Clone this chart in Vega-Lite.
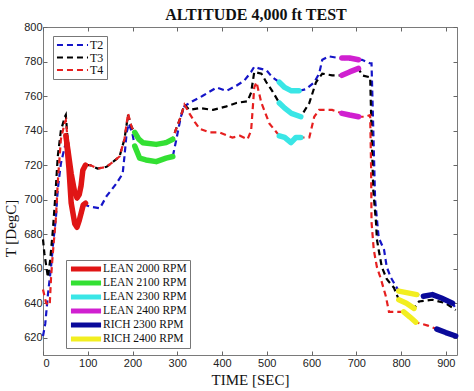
{
  "$schema": "https://vega.github.io/schema/vega-lite/v6.json",
  "width": 414,
  "height": 328,
  "autosize": {"type": "none"},
  "padding": {"left": 43, "top": 27, "right": 17, "bottom": 36},
  "background": "white",
  "config": {
    "view": {"stroke": "#7a7a7a", "strokeWidth": 1},
    "axis": {"grid": false, "domain": false, "tickColor": "#666", "tickSize": -4, "labelFont": "Liberation Sans", "labelFontSize": 11, "labelColor": "#222", "titleFont": "Liberation Serif", "titleFontSize": 15, "titleFontWeight": "normal", "titleColor": "#111"}
  },
  "title": {"text": "ALTITUDE 4,000 ft TEST", "font": "Liberation Serif", "fontSize": 16, "fontWeight": "bold", "color": "#111", "offset": 6, "dx": 6, "dy": 8},
  "datasets": {
    "lines": [
      {"s":"T2","t":0,"v":621},{"s":"T2","t":5,"v":628},{"s":"T2","t":11,"v":645},{"s":"T2","t":18,"v":661},{"s":"T2","t":22,"v":673},{"s":"T2","t":29,"v":690},{"s":"T2","t":33,"v":706},{"s":"T2","t":40,"v":721},{"s":"T2","t":49,"v":731},{"s":"T2","t":52,"v":732},{"s":"T2","t":58,"v":718},{"s":"T2","t":63,"v":698},{"s":"T2","t":71,"v":686},{"s":"T2","t":76,"v":684},{"s":"T2","t":85,"v":690},{"s":"T2","t":93,"v":697},{"s":"T2","t":105,"v":696},{"s":"T2","t":127,"v":695},{"s":"T2","t":142,"v":702},{"s":"T2","t":163,"v":709},{"s":"T2","t":178,"v":715},{"s":"T2","t":182,"v":725},{"s":"T2","t":187,"v":739},{"s":"T2","t":192,"v":744},{"s":"T2","t":200,"v":738},{"s":"T2","t":205,"v":731},{"s":"T2","t":216,"v":724},{"s":"T2","t":253,"v":722},{"s":"T2","t":290,"v":725},{"s":"T2","t":298,"v":735},{"s":"T2","t":308,"v":748},{"s":"T2","t":316,"v":754},{"s":"T2","t":321,"v":755},{"s":"T2","t":334,"v":757},{"s":"T2","t":356,"v":760},{"s":"T2","t":388,"v":765},{"s":"T2","t":410,"v":763},{"s":"T2","t":432,"v":766},{"s":"T2","t":450,"v":769},{"s":"T2","t":465,"v":774},{"s":"T2","t":472,"v":777},{"s":"T2","t":483,"v":776},{"s":"T2","t":499,"v":775},{"s":"T2","t":512,"v":771},{"s":"T2","t":528,"v":768},{"s":"T2","t":540,"v":765},{"s":"T2","t":555,"v":763},{"s":"T2","t":572,"v":763},{"s":"T2","t":588,"v":764},{"s":"T2","t":606,"v":768},{"s":"T2","t":617,"v":773},{"s":"T2","t":624,"v":781},{"s":"T2","t":639,"v":783},{"s":"T2","t":661,"v":782},{"s":"T2","t":685,"v":781},{"s":"T2","t":705,"v":781},{"s":"T2","t":713,"v":781},{"s":"T2","t":730,"v":779},{"s":"T2","t":734,"v":779},{"s":"T2","t":738,"v":740},{"s":"T2","t":742,"v":700},{"s":"T2","t":750,"v":678},{"s":"T2","t":762,"v":671},{"s":"T2","t":768,"v":661},{"s":"T2","t":777,"v":655},{"s":"T2","t":788,"v":650},{"s":"T2","t":795,"v":647},{"s":"T2","t":815,"v":646},{"s":"T2","t":835,"v":645},{"s":"T2","t":850,"v":644},{"s":"T2","t":870,"v":645},{"s":"T2","t":890,"v":643},{"s":"T2","t":905,"v":642},{"s":"T2","t":915,"v":640},{"s":"T2","t":922,"v":637},
      {"s":"T3","t":0,"v":677},{"s":"T3","t":3,"v":669},{"s":"T3","t":11,"v":655},{"s":"T3","t":16,"v":665},{"s":"T3","t":22,"v":682},{"s":"T3","t":27,"v":700},{"s":"T3","t":33,"v":725},{"s":"T3","t":40,"v":740},{"s":"T3","t":49,"v":748},{"s":"T3","t":51,"v":749},{"s":"T3","t":55,"v":735},{"s":"T3","t":63,"v":715},{"s":"T3","t":71,"v":704},{"s":"T3","t":76,"v":701},{"s":"T3","t":85,"v":708},{"s":"T3","t":89,"v":717},{"s":"T3","t":96,"v":720},{"s":"T3","t":105,"v":720},{"s":"T3","t":122,"v":718},{"s":"T3","t":142,"v":719},{"s":"T3","t":157,"v":722},{"s":"T3","t":171,"v":725},{"s":"T3","t":182,"v":735},{"s":"T3","t":190,"v":749},{"s":"T3","t":198,"v":742},{"s":"T3","t":205,"v":739},{"s":"T3","t":223,"v":733},{"s":"T3","t":253,"v":732},{"s":"T3","t":290,"v":735},{"s":"T3","t":296,"v":740},{"s":"T3","t":305,"v":746},{"s":"T3","t":316,"v":755},{"s":"T3","t":327,"v":752},{"s":"T3","t":350,"v":753},{"s":"T3","t":380,"v":752},{"s":"T3","t":410,"v":754},{"s":"T3","t":432,"v":756},{"s":"T3","t":457,"v":757},{"s":"T3","t":465,"v":762},{"s":"T3","t":472,"v":774},{"s":"T3","t":488,"v":773},{"s":"T3","t":499,"v":768},{"s":"T3","t":512,"v":763},{"s":"T3","t":528,"v":756},{"s":"T3","t":545,"v":752},{"s":"T3","t":560,"v":749},{"s":"T3","t":576,"v":748},{"s":"T3","t":595,"v":756},{"s":"T3","t":610,"v":768},{"s":"T3","t":624,"v":773},{"s":"T3","t":646,"v":772},{"s":"T3","t":668,"v":772},{"s":"T3","t":685,"v":774},{"s":"T3","t":705,"v":776},{"s":"T3","t":713,"v":772},{"s":"T3","t":728,"v":771},{"s":"T3","t":731,"v":771},{"s":"T3","t":734,"v":740},{"s":"T3","t":738,"v":705},{"s":"T3","t":744,"v":687},{"s":"T3","t":746,"v":677},{"s":"T3","t":750,"v":671},{"s":"T3","t":757,"v":661},{"s":"T3","t":768,"v":654},{"s":"T3","t":784,"v":649},{"s":"T3","t":795,"v":642},{"s":"T3","t":812,"v":640},{"s":"T3","t":829,"v":637},{"s":"T3","t":840,"v":641},{"s":"T3","t":870,"v":642},{"s":"T3","t":900,"v":640},{"s":"T3","t":922,"v":636},
      {"s":"T4","t":0,"v":648},{"s":"T4","t":7,"v":640},{"s":"T4","t":15,"v":639},{"s":"T4","t":18,"v":655},{"s":"T4","t":22,"v":669},{"s":"T4","t":29,"v":690},{"s":"T4","t":33,"v":710},{"s":"T4","t":40,"v":735},{"s":"T4","t":49,"v":745},{"s":"T4","t":51,"v":746},{"s":"T4","t":55,"v":735},{"s":"T4","t":63,"v":715},{"s":"T4","t":71,"v":704},{"s":"T4","t":76,"v":701},{"s":"T4","t":85,"v":708},{"s":"T4","t":89,"v":717},{"s":"T4","t":96,"v":720},{"s":"T4","t":105,"v":720},{"s":"T4","t":122,"v":718},{"s":"T4","t":142,"v":719},{"s":"T4","t":157,"v":722},{"s":"T4","t":171,"v":725},{"s":"T4","t":182,"v":735},{"s":"T4","t":190,"v":750},{"s":"T4","t":198,"v":742},{"s":"T4","t":205,"v":739},{"s":"T4","t":223,"v":733},{"s":"T4","t":253,"v":732},{"s":"T4","t":290,"v":735},{"s":"T4","t":296,"v":740},{"s":"T4","t":305,"v":746},{"s":"T4","t":316,"v":755},{"s":"T4","t":327,"v":750},{"s":"T4","t":339,"v":745},{"s":"T4","t":350,"v":741},{"s":"T4","t":372,"v":739},{"s":"T4","t":394,"v":739},{"s":"T4","t":423,"v":736},{"s":"T4","t":440,"v":737},{"s":"T4","t":457,"v":735},{"s":"T4","t":465,"v":740},{"s":"T4","t":472,"v":765},{"s":"T4","t":477,"v":768},{"s":"T4","t":488,"v":756},{"s":"T4","t":506,"v":744},{"s":"T4","t":528,"v":737},{"s":"T4","t":540,"v":736},{"s":"T4","t":554,"v":733},{"s":"T4","t":565,"v":736},{"s":"T4","t":576,"v":736},{"s":"T4","t":595,"v":736},{"s":"T4","t":606,"v":748},{"s":"T4","t":617,"v":752},{"s":"T4","t":646,"v":752},{"s":"T4","t":668,"v":750},{"s":"T4","t":685,"v":749},{"s":"T4","t":705,"v":748},{"s":"T4","t":720,"v":748},{"s":"T4","t":731,"v":749},{"s":"T4","t":733,"v":720},{"s":"T4","t":734,"v":687},{"s":"T4","t":739,"v":671},{"s":"T4","t":746,"v":661},{"s":"T4","t":755,"v":654},{"s":"T4","t":766,"v":644},{"s":"T4","t":773,"v":635},{"s":"T4","t":788,"v":635},{"s":"T4","t":806,"v":635},{"s":"T4","t":820,"v":632},{"s":"T4","t":833,"v":629},{"s":"T4","t":860,"v":627},{"s":"T4","t":880,"v":625},{"s":"T4","t":900,"v":623},{"s":"T4","t":922,"v":621}
    ],
    "segs": [
      {"g":"LEAN 2000 RPM","k":"a","t":51,"v":737},{"g":"LEAN 2000 RPM","k":"a","t":55,"v":730},{"g":"LEAN 2000 RPM","k":"a","t":63,"v":715},{"g":"LEAN 2000 RPM","k":"a","t":71,"v":704},{"g":"LEAN 2000 RPM","k":"a","t":76,"v":701},{"g":"LEAN 2000 RPM","k":"a","t":81,"v":703},{"g":"LEAN 2000 RPM","k":"a","t":85,"v":708},{"g":"LEAN 2000 RPM","k":"a","t":89,"v":717},{"g":"LEAN 2000 RPM","k":"a","t":95,"v":720},
      {"g":"LEAN 2000 RPM","k":"b","t":53,"v":733},{"g":"LEAN 2000 RPM","k":"b","t":58,"v":718},{"g":"LEAN 2000 RPM","k":"b","t":63,"v":698},{"g":"LEAN 2000 RPM","k":"b","t":71,"v":686},{"g":"LEAN 2000 RPM","k":"b","t":76,"v":684},{"g":"LEAN 2000 RPM","k":"b","t":81,"v":688},{"g":"LEAN 2000 RPM","k":"b","t":85,"v":692},{"g":"LEAN 2000 RPM","k":"b","t":90,"v":697},{"g":"LEAN 2000 RPM","k":"b","t":95,"v":698},
      {"g":"LEAN 2100 RPM","k":"a","t":205,"v":739},{"g":"LEAN 2100 RPM","k":"a","t":214,"v":735},{"g":"LEAN 2100 RPM","k":"a","t":223,"v":733},{"g":"LEAN 2100 RPM","k":"a","t":253,"v":732},{"g":"LEAN 2100 RPM","k":"a","t":275,"v":733},{"g":"LEAN 2100 RPM","k":"a","t":290,"v":735},
      {"g":"LEAN 2100 RPM","k":"b","t":205,"v":731},{"g":"LEAN 2100 RPM","k":"b","t":216,"v":724},{"g":"LEAN 2100 RPM","k":"b","t":230,"v":723},{"g":"LEAN 2100 RPM","k":"b","t":253,"v":722},{"g":"LEAN 2100 RPM","k":"b","t":275,"v":724},{"g":"LEAN 2100 RPM","k":"b","t":290,"v":725},
      {"g":"LEAN 2300 RPM","k":"a","t":528,"v":768},{"g":"LEAN 2300 RPM","k":"a","t":540,"v":765},{"g":"LEAN 2300 RPM","k":"a","t":555,"v":763},{"g":"LEAN 2300 RPM","k":"a","t":572,"v":763},
      {"g":"LEAN 2300 RPM","k":"b","t":528,"v":756},{"g":"LEAN 2300 RPM","k":"b","t":540,"v":753},{"g":"LEAN 2300 RPM","k":"b","t":555,"v":750},{"g":"LEAN 2300 RPM","k":"b","t":576,"v":748},
      {"g":"LEAN 2300 RPM","k":"c","t":528,"v":737},{"g":"LEAN 2300 RPM","k":"c","t":540,"v":736},{"g":"LEAN 2300 RPM","k":"c","t":554,"v":733},{"g":"LEAN 2300 RPM","k":"c","t":565,"v":736},{"g":"LEAN 2300 RPM","k":"c","t":576,"v":736},
      {"g":"LEAN 2400 RPM","k":"a","t":668,"v":782},{"g":"LEAN 2400 RPM","k":"a","t":685,"v":782},{"g":"LEAN 2400 RPM","k":"a","t":705,"v":781},
      {"g":"LEAN 2400 RPM","k":"b","t":668,"v":772},{"g":"LEAN 2400 RPM","k":"b","t":685,"v":774},{"g":"LEAN 2400 RPM","k":"b","t":705,"v":776},
      {"g":"LEAN 2400 RPM","k":"c","t":668,"v":750},{"g":"LEAN 2400 RPM","k":"c","t":685,"v":749},{"g":"LEAN 2400 RPM","k":"c","t":705,"v":748},
      {"g":"RICH 2300 RPM","k":"a","t":850,"v":644},{"g":"RICH 2300 RPM","k":"a","t":870,"v":645},{"g":"RICH 2300 RPM","k":"a","t":890,"v":643},{"g":"RICH 2300 RPM","k":"a","t":915,"v":640},
      {"g":"RICH 2300 RPM","k":"b","t":880,"v":625},{"g":"RICH 2300 RPM","k":"b","t":900,"v":623},{"g":"RICH 2300 RPM","k":"b","t":922,"v":621},
      {"g":"RICH 2400 RPM","k":"a","t":795,"v":647},{"g":"RICH 2400 RPM","k":"a","t":815,"v":646},{"g":"RICH 2400 RPM","k":"a","t":835,"v":645},
      {"g":"RICH 2400 RPM","k":"b","t":795,"v":642},{"g":"RICH 2400 RPM","k":"b","t":812,"v":640},{"g":"RICH 2400 RPM","k":"b","t":829,"v":637},
      {"g":"RICH 2400 RPM","k":"c","t":806,"v":635},{"g":"RICH 2400 RPM","k":"c","t":820,"v":632},{"g":"RICH 2400 RPM","k":"c","t":833,"v":629}
    ]
  },
  "layer": [
    {
      "data": {"name": "lines"},
      "mark": {"type": "line", "strokeDash": [6, 4], "strokeWidth": 2.2},
      "encoding": {
        "x": {"field": "t", "type": "quantitative", "scale": {"domain": [0, 925], "nice": false, "zero": false},
              "axis": {"values": [0,100,200,300,400,500,600,700,800,900], "title": "TIME [SEC]", "labelPadding": 6, "titlePadding": 4}},
        "y": {"field": "v", "type": "quantitative", "scale": {"domain": [610, 800], "nice": false, "zero": false},
              "axis": {"values": [620,640,660,680,700,720,740,760,780,800], "title": "T [DegC]", "labelPadding": 5, "titleX": -33, "titleY": 201, "titleAlign": "center", "titleBaseline": "middle", "titleAngle": -90}},
        "color": {"field": "s", "type": "nominal",
                  "scale": {"domain": ["T2", "T3", "T4"], "range": ["#1515c8", "#000000", "#e62020"]},
                  "legend": {"title": null, "orient": "none", "legendX": 10, "legendY": 9, "symbolType": "M-3.45,0H3.45", "symbolSize": 81, "symbolOffset": 10.5, "symbolStrokeWidth": 2.2, "symbolDash": [6, 4], "labelFont": "Liberation Serif", "labelFontSize": 12, "labelColor": "#111", "padding": 3, "rowPadding": 0.5, "strokeColor": "#777", "fillColor": "white", "labelOffset": 11.5}}
      }
    },
    {
      "data": {"name": "segs"},
      "mark": {"type": "line", "strokeWidth": 5.5, "strokeCap": "round", "strokeJoin": "round"},
      "encoding": {
        "x": {"field": "t", "type": "quantitative", "scale": {"domain": [0, 925], "nice": false, "zero": false},
              "axis": {"orient": "top", "values": [0,100,200,300,400,500,600,700,800,900], "labels": false, "title": null}},
        "y": {"field": "v", "type": "quantitative", "scale": {"domain": [610, 800], "nice": false, "zero": false},
              "axis": {"orient": "right", "values": [620,640,660,680,700,720,740,760,780,800], "labels": false, "title": null}},
        "color": {"field": "g", "type": "nominal",
                  "scale": {"domain": ["LEAN 2000 RPM", "LEAN 2100 RPM", "LEAN 2300 RPM", "LEAN 2400 RPM", "RICH 2300 RPM", "RICH 2400 RPM"], "range": ["#e01515", "#33e033", "#3ae6e6", "#d020d0", "#0a0a9a", "#f2ee20"]},
                  "legend": {"title": null, "orient": "none", "legendX": 23, "legendY": 233, "symbolType": "M-4.3,0H4.3", "symbolSize": 49, "symbolOffset": 11, "symbolStrokeWidth": 5, "labelFont": "Liberation Serif", "labelFontSize": 11.5, "labelColor": "#111", "padding": 3, "rowPadding": 2, "strokeColor": "#777", "fillColor": "white", "labelOffset": 11,
                             "encode": {"symbols": {"update": {"strokeJoin": {"value": "round"}, "strokeCap": {"value": "butt"}}}}}},
        "detail": {"field": "k", "type": "nominal"}
      }
    }
  ],
  "resolve": {"scale": {"x": "independent", "y": "independent", "color": "independent"}}
}
